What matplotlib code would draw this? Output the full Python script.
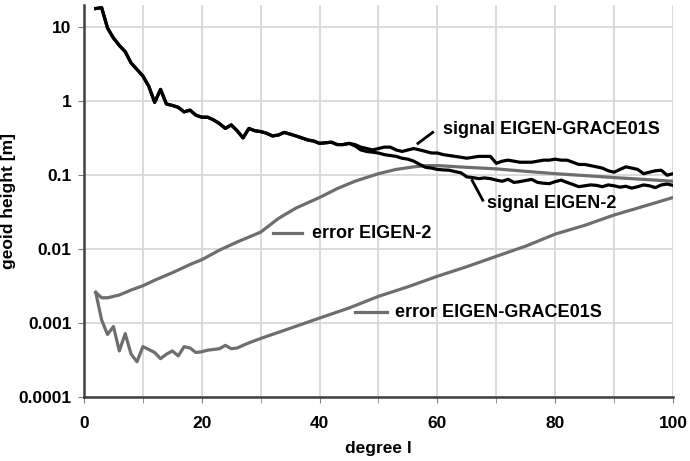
import numpy as np
import matplotlib
matplotlib.use("Agg")
import matplotlib.pyplot as plt
from matplotlib.ticker import FixedLocator, NullFormatter

plt.rcParams['font.family'] = ['Liberation Sans', 'DejaVu Sans']
plt.rcParams['font.weight'] = 'bold'

# degree-variance curves
sig_common_deg = list(range(2, 46))
sig_common_val = [18, 18.5, 9.8, 7.2, 5.7, 4.7, 3.3, 2.7, 2.2, 1.6, 0.97, 1.45,
                  0.92, 0.88, 0.83, 0.72, 0.76, 0.65, 0.61, 0.61, 0.56, 0.5,
                  0.43, 0.48, 0.4, 0.32, 0.43, 0.4, 0.39, 0.37, 0.34, 0.35,
                  0.38, 0.36, 0.34, 0.32, 0.3, 0.29, 0.27, 0.275, 0.28, 0.26,
                  0.26, 0.27]

grace_deg = list(range(46, 101))
grace_val = [0.26, 0.24, 0.23, 0.22, 0.23, 0.24, 0.24, 0.22, 0.21, 0.22, 0.23,
             0.22, 0.21, 0.2, 0.2, 0.19, 0.185, 0.18, 0.175, 0.17, 0.175, 0.18,
             0.18, 0.18, 0.145, 0.155, 0.16, 0.155, 0.15, 0.15, 0.15, 0.155,
             0.16, 0.16, 0.165, 0.16, 0.16, 0.15, 0.14, 0.14, 0.135, 0.13,
             0.125, 0.115, 0.11, 0.12, 0.13, 0.125, 0.12, 0.105, 0.11, 0.115,
             0.117, 0.1, 0.105]

eigen2_deg = list(range(46, 101))
eigen2_val = [0.25, 0.22, 0.21, 0.205, 0.2, 0.19, 0.185, 0.18, 0.17, 0.165,
              0.155, 0.14, 0.128, 0.125, 0.12, 0.118, 0.117, 0.112, 0.108,
              0.095, 0.093, 0.09, 0.092, 0.09, 0.086, 0.083, 0.088, 0.08,
              0.082, 0.085, 0.088, 0.08, 0.078, 0.077, 0.082, 0.086, 0.08,
              0.075, 0.07, 0.072, 0.074, 0.073, 0.07, 0.074, 0.072, 0.069,
              0.071, 0.067, 0.07, 0.074, 0.072, 0.068, 0.074, 0.076, 0.073]

err_eigen2_deg = [2, 3, 4, 5, 6, 8, 10, 12, 15, 18, 20, 23, 26, 30, 33, 36, 40,
                  43, 46, 50, 53, 56, 58, 60, 65, 70, 75, 80, 85, 90, 95, 100]
err_eigen2_val = [0.0026, 0.0022, 0.0022, 0.0023, 0.0024, 0.0028, 0.0032,
                  0.0038, 0.0048, 0.0062, 0.0072, 0.0097, 0.0125, 0.017, 0.026,
                  0.036, 0.05, 0.066, 0.083, 0.105, 0.12, 0.13, 0.135, 0.135,
                  0.128, 0.122, 0.113, 0.105, 0.099, 0.093, 0.088, 0.083]

err_grace_deg = list(range(2, 29)) + [30, 35, 40, 45, 50, 55, 60, 65, 70, 75,
                                      80, 85, 90, 95, 100]
err_grace_val = [0.0026, 0.0011, 0.0007, 0.0009, 0.00042, 0.00072, 0.00038,
                 0.0003, 0.00048, 0.00044, 0.0004, 0.00033, 0.00038, 0.00042,
                 0.00036, 0.00048, 0.00046, 0.0004, 0.00041, 0.00043, 0.00044,
                 0.00045, 0.0005, 0.00045, 0.00046, 0.0005, 0.00054, 0.00062,
                 0.00085, 0.00117, 0.0016, 0.0023, 0.0031, 0.0043, 0.0058,
                 0.008, 0.011, 0.016, 0.021, 0.029, 0.038, 0.05]

black = '#000000'
grey = '#6e6e6e'
fs = 12.5
fs_lab = 13

fig = plt.figure(figsize=(6.9, 4.61), dpi=100)
ax = fig.add_axes([0.1217, 0.1388, 0.8537, 0.850])

ax.set_yscale('log')
ax.set_xlim(0, 100)
ax.set_ylim(1e-4, 20)

ax.plot(err_eigen2_deg, err_eigen2_val, color=grey, lw=2.3, zorder=3)
ax.plot(err_grace_deg, err_grace_val, color=grey, lw=2.3, zorder=3)
ax.plot(sig_common_deg + grace_deg, sig_common_val + grace_val,
        color=black, lw=2.3, zorder=4)
ax.plot(sig_common_deg + eigen2_deg, sig_common_val + eigen2_val,
        color=black, lw=2.3, zorder=4)

# grid
ax.xaxis.set_major_locator(FixedLocator([0, 20, 40, 60, 80, 100]))
ax.xaxis.set_minor_locator(FixedLocator([10, 30, 50, 70, 90]))
ax.yaxis.set_major_locator(FixedLocator([1e-4, 1e-3, 1e-2, 0.1, 1, 10]))
ax.yaxis.set_minor_locator(FixedLocator([]))
ax.set_yticklabels(['0.0001', '0.001', '0.01', '0.1', '1', '10'])
ax.xaxis.set_minor_formatter(NullFormatter())
ax.grid(True, which='both', axis='x', color='#d8d8d8', lw=1.3, zorder=0)
ax.grid(True, which='major', axis='y', color='#d8d8d8', lw=1.3, zorder=0)

for s in ['top', 'right']:
    ax.spines[s].set_visible(False)
for s in ['left', 'bottom']:
    ax.spines[s].set_color('#404040')
    ax.spines[s].set_linewidth(1.8)
ax.tick_params(axis='both', which='both', direction='out', length=4,
               color='#808080', labelsize=fs, pad=5)
ax.tick_params(axis='x', pad=10)

ax.set_xlabel('degree l', fontsize=fs, fontweight='bold', labelpad=7)
ax.set_ylabel('geoid height [m]', fontsize=fs, fontweight='bold', labelpad=2)

# curve labels with short leader lines
ax.plot([56.7, 59.2], [0.27, 0.38], color=black, lw=2, zorder=5)
ax.text(61.0, 0.42, 'signal EIGEN-GRACE01S', fontsize=fs_lab,
        fontweight='bold', va='center', ha='left')
ax.plot([65.9, 67.7], [0.085, 0.046], color=black, lw=2, zorder=5)
ax.text(68.5, 0.042, 'signal EIGEN-2', fontsize=fs_lab,
        fontweight='bold', va='center', ha='left')
ax.plot([32.1, 37.0], [0.0165, 0.0165], color=grey, lw=2.3, zorder=5)
ax.text(38.7, 0.0165, 'error EIGEN-2', fontsize=fs_lab,
        fontweight='bold', va='center', ha='left')
ax.plot([46.0, 51.4], [0.0014, 0.0014], color=grey, lw=2.3, zorder=5)
ax.text(52.8, 0.0014, 'error EIGEN-GRACE01S', fontsize=fs_lab,
        fontweight='bold', va='center', ha='left')

fig.savefig('out.png', dpi=100)
